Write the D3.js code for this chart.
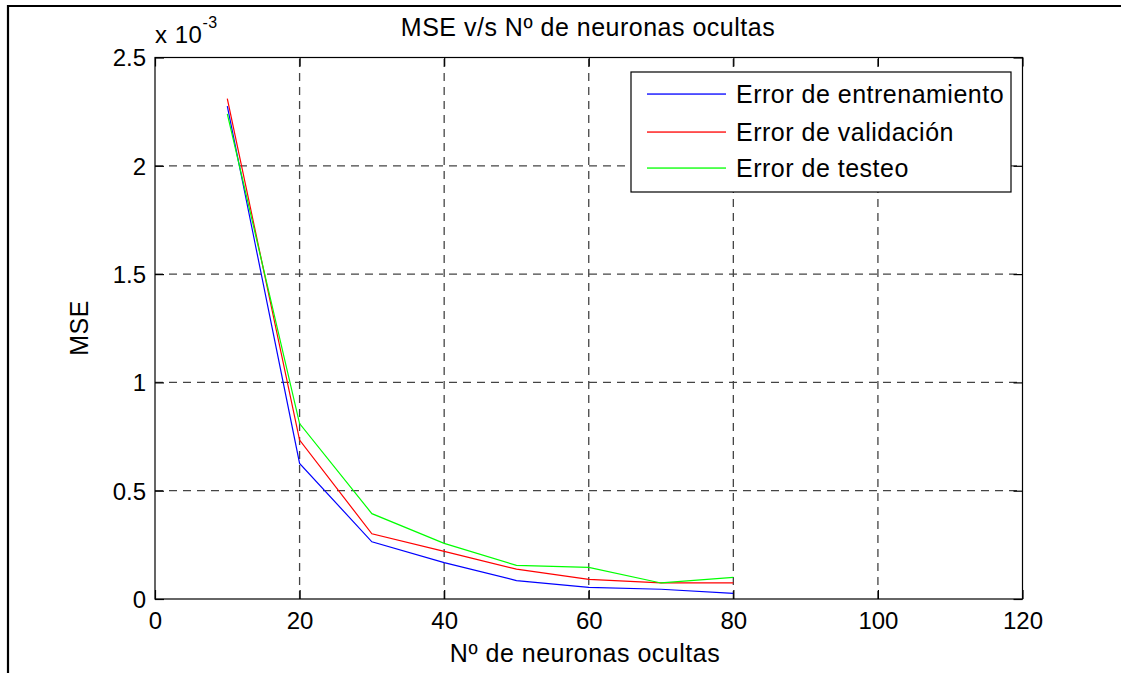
<!DOCTYPE html>
<html><head><meta charset="utf-8">
<script src="https://cdn.jsdelivr.net/npm/d3@7"></script>
<style>
html,body{margin:0;padding:0;background:#fff;}
svg text{font-family:"Liberation Sans",Arial,Helvetica,sans-serif;fill:#000;}
</style></head>
<body><svg id="c" width="1121" height="673"></svg>
<script>
// ---- data ----
const neurons = [10, 20, 30, 40, 50, 60, 70, 80];
const errTrain = [2.275e-3, 0.626e-3, 0.264e-3, 0.168e-3, 0.085e-3, 0.054e-3, 0.045e-3, 0.026e-3];
const errValid = [2.31e-3, 0.734e-3, 0.301e-3, 0.22e-3, 0.138e-3, 0.091e-3, 0.074e-3, 0.074e-3];
const errTest  = [2.24e-3, 0.81e-3, 0.394e-3, 0.257e-3, 0.155e-3, 0.146e-3, 0.074e-3, 0.10e-3];
const seriesNames = ["Error de entrenamiento", "Error de validación", "Error de testeo"];
const seriesColors = ["#0000ff", "#ff0000", "#00ff00"];
const xTicks = [0, 20, 40, 60, 80, 100, 120];
const yTicks = [0, 0.5e-3, 1e-3, 1.5e-3, 2e-3, 2.5e-3];
const yTickLabels = ["0", "0.5", "1", "1.5", "2", "2.5"];
const titleText = "MSE v/s Nº de neuronas ocultas";
const xLabelText = "Nº de neuronas ocultas";
const yLabelText = "MSE";

// ---- layout ----
const svg = d3.select("#c");
const L = 155, R = 1022.5, T = 57.5, B = 599;
const x = d3.scaleLinear().domain([0, 120]).range([L, R]);
const y = d3.scaleLinear().domain([0, 2.5e-3]).range([B, T]);
const FS = 24, LFS = 25, LS = "0.5px";

// outer frame (partial)
svg.append("line").attr("x1", 7).attr("x2", 1121).attr("y1", 6).attr("y2", 6).attr("stroke", "#000").attr("stroke-width", 2.2);
svg.append("line").attr("x1", 8).attr("x2", 8).attr("y1", 5).attr("y2", 673).attr("stroke", "#000").attr("stroke-width", 2.2);

// grid
const grid = svg.append("g");
xTicks.slice(1, -1).forEach(t => {
  grid.append("line").attr("x1", x(t)).attr("x2", x(t)).attr("y1", B).attr("y2", T)
    .attr("stroke", "#444").attr("stroke-width", 1.3).attr("stroke-dasharray", "8,6");
});
yTicks.slice(1, -1).forEach(t => {
  grid.append("line").attr("x1", L).attr("x2", R).attr("y1", y(t)).attr("y2", y(t))
    .attr("stroke", "#444").attr("stroke-width", 1.3).attr("stroke-dasharray", "8,6");
});

// series
const line = d3.line().x((d, i) => x(neurons[i])).y(d => y(d));
[errTrain, errValid, errTest].forEach((s, k) => {
  svg.append("path").attr("d", line(s)).attr("fill", "none")
    .attr("stroke", seriesColors[k]).attr("stroke-width", 1.2);
});

// axes box
svg.append("rect").attr("x", L).attr("y", T).attr("width", R - L).attr("height", B - T)
  .attr("fill", "none").attr("stroke", "#000").attr("stroke-width", 1.2);

// axes with inward ticks
const xAxB = d3.axisBottom(x).tickValues(xTicks).tickSize(-9).tickPadding(20).tickFormat(d3.format("d"));
const gx = svg.append("g").attr("transform", `translate(0,${B})`).call(xAxB);
const xAxT = d3.axisTop(x).tickValues(xTicks).tickSize(-9).tickFormat("");
const gxt = svg.append("g").attr("transform", `translate(0,${T})`).call(xAxT);
const yAxL = d3.axisLeft(y).tickValues(yTicks).tickSize(-9).tickPadding(18).tickFormat((d, i) => yTickLabels[i]);
const gy = svg.append("g").attr("transform", `translate(${L},0)`).call(yAxL);
const yAxR = d3.axisRight(y).tickValues(yTicks).tickSize(-9).tickFormat("");
const gyr = svg.append("g").attr("transform", `translate(${R},0)`).call(yAxR);
[gx, gxt, gy, gyr].forEach(g => {
  g.select(".domain").remove();
  g.selectAll(".tick line").attr("stroke", "#000").attr("stroke-width", 1.2);
  g.selectAll("text").attr("font-size", FS).attr("font-family", "Liberation Sans, Arial, sans-serif").attr("fill", "#000");
});
gx.selectAll("text").attr("dy", null).attr("y", 30);
gy.selectAll("text").attr("dy", "0.35em").attr("x", -9);

// exponent label
const ex = svg.append("text").attr("x", 155).attr("y", 43).attr("font-size", FS).attr("letter-spacing", LS);
ex.append("tspan").text("x 10");
ex.append("tspan").attr("font-size", 16).attr("dy", -15).text("-3");

// title
svg.append("text").attr("x", 588).attr("y", 36).attr("text-anchor", "middle").attr("font-size", LFS).attr("letter-spacing", LS).text(titleText);
// x label
svg.append("text").attr("x", 585).attr("y", 662).attr("text-anchor", "middle").attr("font-size", LFS).attr("letter-spacing", LS).text(xLabelText);
// y label
svg.append("text").attr("transform", "translate(88,328) rotate(-90)").attr("text-anchor", "middle").attr("font-size", LFS).attr("letter-spacing", LS).text(yLabelText);

// legend
const lg = svg.append("g");
lg.append("rect").attr("x", 631).attr("y", 72).attr("width", 380).attr("height", 120)
  .attr("fill", "#fff").attr("stroke", "#000").attr("stroke-width", 1.2);
const rowY = [94, 132, 168];
seriesNames.forEach((n, k) => {
  lg.append("rect").attr("x", 647).attr("y", rowY[k] - 0.6).attr("width", 79).attr("height", 1.3)
    .attr("fill", seriesColors[k]);
  lg.append("text").attr("x", 736).attr("y", rowY[k]).attr("dy", "0.35em").attr("font-size", LFS).attr("letter-spacing", LS).text(n);
});
</script></body></html>
